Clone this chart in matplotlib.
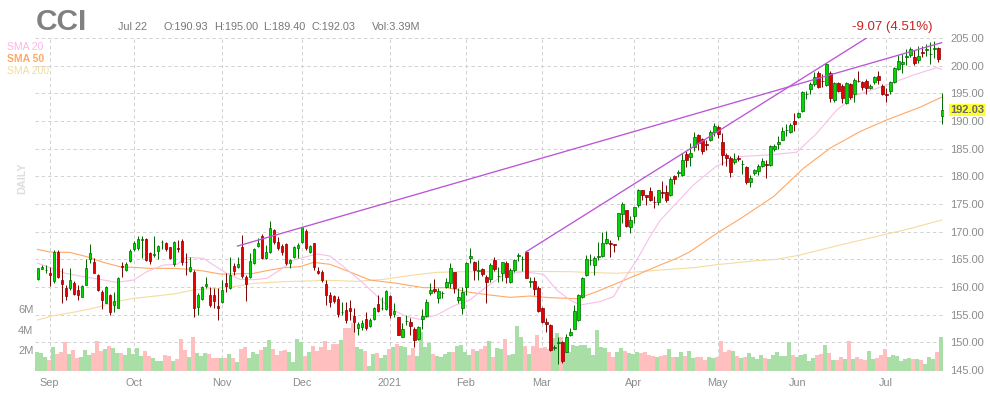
import matplotlib
matplotlib.use("Agg")
import matplotlib.pyplot as plt

plt.rcParams["font.family"] = ["Liberation Sans", "DejaVu Sans"]

# daily prices, bar by bar
opens = [161.44, 163.31, 163.0, 162.47, 161.14, 166.26, 161.2, 159.76, 159.82, 160.66,
         159.46, 158.25, 160.42, 165.0, 164.45, 162.11, 159.1, 157.17, 158.5, 156.69,
         156.27, 163.85, 163.13, 164.76, 166.8, 167.04, 168.55, 168.61, 166.08, 165.85,
         166.56, 168.15, 168.01, 167.16, 164.09, 167.0, 168.25, 164.57, 162.95, 162.71,
         156.45, 157.77, 160.12, 158.5, 158.62, 156.51, 157.35, 160.66, 159.76, 163.73,
         163.55, 167.16, 161.74, 161.74, 164.27, 167.46, 169.21, 165.18, 166.26, 170.23,
         168.07, 167.34, 167.71, 164.27, 165.36, 166.98, 168.07, 170.05, 166.26, 167.89,
         162.83, 162.65, 160.48, 158.5, 158.31, 157.83, 155.5, 155.85, 156.15, 154.76,
         152.53, 152.71, 154.16, 152.96, 154.28, 156.87, 156.12, 155.97, 158.37, 155.18,
         154.52, 151.03, 153.9, 153.62, 152.41, 150.55, 154.16, 154.82, 158.98, 159.58,
         158.07, 158.93, 160.06, 160.66, 162.65, 157.59, 156.15, 160.06, 165.18, 164.51,
         162.9, 163.31, 161.87, 161.38, 164.82, 161.9, 162.47, 164.27, 160.96, 163.01,
         165.65, 165.0, 166.26, 160.95, 161.02, 159.88, 156.27, 153.74, 153.2, 149.05,
         149.95, 150.0, 148.31, 151.39, 152.47, 153.98, 158.19, 162.11, 164.8, 163.91,
         165.5, 165.66, 167.89, 168.01, 167.77, 169.29, 173.26, 173.87, 170.92, 172.9,
         174.89, 177.48, 176.64, 177.3, 175.4, 175.43, 177.1, 177.17, 176.7, 180.07,
         180.6, 180.33, 184.0, 183.58, 185.38, 187.43, 186.7, 185.8, 186.53, 187.97,
         189.0, 186.16, 183.82, 183.27, 182.55, 183.3, 182.2, 181.65, 179.06, 180.69,
         180.93, 181.95, 182.25, 182.13, 184.9, 185.92, 186.65, 188.3, 188.09, 189.96,
         190.68, 191.88, 194.8, 195.86, 196.7, 198.63, 197.3, 196.58, 198.69, 193.87,
         196.94, 196.4, 193.27, 196.64, 194.95, 197.25, 197.0, 197.18, 195.92, 197.12,
         198.08, 196.4, 194.85, 195.5, 197.0, 199.47, 200.25, 201.51, 201.88, 201.51,
         200.97, 202.42, 202.84, 202.05, 203.1, 203.14, 190.93]
highs = [163.49, 163.97, 163.97, 163.67, 166.68, 166.68, 163.37, 160.36, 163.37, 161.08,
         160.36, 160.36, 165.0, 167.77, 165.18, 162.35, 159.46, 160.18, 158.74, 159.16,
         161.74, 164.57, 164.57, 166.8, 168.37, 169.21, 169.21, 168.79, 166.38, 169.21,
         167.58, 168.49, 168.13, 167.28, 168.37, 168.49, 168.61, 166.08, 165.36, 163.07,
         158.86, 160.18, 161.87, 159.94, 159.76, 159.76, 161.26, 162.47, 165.36, 164.27,
         165.36, 169.39, 162.17, 166.08, 166.98, 168.79, 169.57, 167.58, 171.9, 170.41,
         169.09, 167.77, 167.89, 165.0, 167.4, 167.89, 170.9, 170.41, 167.58, 168.01,
         163.67, 163.07, 161.26, 159.16, 158.56, 158.37, 157.35, 157.35, 157.65, 156.15,
         153.74, 154.04, 155.54, 154.34, 156.45, 158.56, 158.25, 159.4, 158.56, 157.05,
         154.64, 153.44, 154.94, 154.34, 152.84, 152.96, 155.97, 157.77, 160.66, 161.38,
         159.76, 159.34, 161.56, 164.27, 162.77, 159.76, 160.06, 164.57, 166.98, 164.76,
         164.88, 163.49, 162.17, 164.27, 165.36, 163.67, 164.57, 164.76, 163.37, 165.0,
         166.2, 165.6, 166.38, 161.87, 161.87, 160.18, 156.45, 154.34, 153.32, 149.5,
         151.0, 150.3, 151.5, 152.53, 156.75, 158.74, 161.74, 165.78, 165.96, 165.6,
         168.19, 169.99, 170.11, 168.49, 167.77, 173.45, 175.3, 174.0, 172.8, 174.5,
         177.7, 177.6, 176.7, 178.0, 176.5, 177.6, 179.2, 178.4, 179.8, 180.3,
         181.1, 184.2, 184.6, 186.0, 188.0, 187.6, 187.0, 186.6, 188.3, 189.6,
         189.2, 187.8, 184.3, 183.6, 184.3, 183.9, 183.0, 181.9, 180.3, 181.3,
         182.2, 183.4, 183.0, 185.7, 185.8, 187.2, 189.0, 189.5, 189.7, 191.5,
         191.7, 195.4, 195.4, 197.0, 198.9, 199.0, 198.5, 200.5, 199.0, 197.1,
         197.1, 196.6, 197.1, 196.9, 197.7, 199.1, 197.3, 197.5, 196.7, 198.2,
         199.0, 196.7, 195.9, 197.3, 199.8, 201.9, 202.1, 203.0, 203.3, 202.8,
         203.5, 203.6, 204.0, 204.3, 204.5, 203.3, 195.0]
lows = [161.26, 163.19, 162.47, 160.24, 160.66, 161.56, 157.05, 157.65, 159.46, 158.56,
        157.65, 158.13, 160.3, 164.27, 162.47, 159.28, 155.97, 157.05, 154.94, 155.54,
        156.15, 161.74, 162.95, 164.57, 166.56, 166.68, 165.18, 164.76, 164.09, 165.48,
        165.0, 166.8, 166.56, 165.0, 163.79, 166.38, 163.97, 162.17, 162.77, 154.52,
        154.94, 157.65, 159.76, 156.33, 156.15, 154.04, 157.17, 159.16, 159.58, 162.17,
        163.37, 161.56, 157.53, 161.56, 164.15, 167.28, 165.0, 165.0, 166.08, 167.77,
        166.68, 165.78, 163.97, 163.37, 165.18, 165.18, 167.89, 166.68, 166.08, 163.07,
        162.35, 160.96, 156.75, 156.45, 157.05, 154.64, 154.94, 153.44, 154.04, 151.93,
        151.33, 152.23, 152.23, 152.84, 154.04, 155.54, 155.85, 155.85, 154.34, 154.64,
        151.33, 150.91, 153.14, 151.33, 149.1, 150.43, 152.35, 154.64, 158.56, 158.98,
        157.05, 157.95, 159.76, 159.76, 158.98, 157.05, 155.06, 158.56, 164.27, 161.26,
        161.26, 161.99, 157.17, 160.96, 162.95, 160.96, 161.14, 160.66, 160.78, 162.77,
        164.76, 162.95, 161.56, 160.06, 158.56, 155.54, 153.56, 151.93, 148.5, 148.6,
        146.1, 146.35, 148.2, 151.21, 152.35, 153.86, 158.07, 161.99, 163.97, 162.17,
        164.88, 165.48, 167.71, 165.48, 166.38, 168.5, 171.6, 170.8, 169.7, 171.6,
        174.4, 175.7, 174.8, 175.5, 174.3, 174.9, 176.0, 175.3, 176.4, 178.6,
        179.8, 180.1, 181.6, 181.9, 184.6, 184.7, 184.0, 184.8, 186.3, 187.2,
        187.0, 182.0, 181.9, 179.9, 182.2, 182.7, 180.4, 178.7, 178.1, 180.3,
        180.3, 181.7, 179.7, 181.9, 184.5, 185.0, 186.5, 187.2, 187.9, 188.2,
        190.5, 191.7, 194.0, 194.9, 196.4, 195.9, 196.2, 196.4, 193.5, 193.5,
        195.2, 193.3, 193.0, 194.0, 193.4, 197.0, 195.6, 194.9, 195.7, 196.6,
        196.7, 194.7, 193.4, 194.8, 196.8, 199.3, 198.6, 200.2, 201.6, 200.1,
        200.5, 201.5, 201.8, 200.3, 201.3, 200.6, 189.4]
closes = [163.37, 163.67, 163.1, 162.11, 166.32, 161.74, 160.6, 158.43, 161.2, 158.8,
          158.62, 160.18, 163.37, 166.08, 162.59, 159.52, 157.71, 159.94, 155.54, 157.41,
          161.56, 163.67, 164.09, 166.44, 167.89, 168.61, 168.61, 164.94, 164.76, 165.92,
          167.34, 168.2, 166.8, 165.18, 168.07, 166.94, 164.57, 164.45, 163.67, 156.27,
          158.5, 159.94, 160.48, 156.81, 157.53, 156.15, 159.4, 160.24, 162.11, 162.95,
          164.09, 161.93, 160.48, 164.63, 166.8, 167.89, 165.3, 166.26, 170.6, 168.07,
          166.98, 166.26, 164.27, 164.82, 167.16, 167.52, 170.78, 166.98, 167.34, 163.55,
          162.47, 161.2, 158.5, 157.23, 157.53, 155.06, 155.56, 154.04, 155.73, 153.74,
          153.26, 153.44, 152.53, 154.04, 156.15, 155.73, 156.2, 159.22, 154.94, 155.67,
          151.39, 152.35, 153.92, 153.02, 150.49, 152.72, 154.7, 157.23, 159.46, 159.22,
          159.22, 159.0, 160.84, 163.37, 159.82, 158.13, 159.16, 164.27, 165.54, 163.07,
          163.0, 162.29, 160.96, 163.91, 163.19, 162.0, 164.45, 161.87, 163.01, 164.82,
          165.72, 165.06, 161.69, 161.1, 159.7, 155.73, 153.74, 153.26, 148.56, 149.15,
          150.05, 146.62, 150.96, 151.81, 155.6, 158.62, 161.56, 165.0, 164.88, 165.18,
          165.66, 167.89, 168.67, 167.71, 167.65, 173.32, 174.95, 171.1, 172.06, 174.4,
          177.48, 176.7, 176.27, 175.73, 175.35, 177.48, 177.0, 175.73, 179.46, 179.59,
          180.7, 182.91, 182.97, 184.18, 187.07, 186.1, 184.66, 185.7, 187.97, 189.11,
          187.67, 183.94, 183.27, 180.87, 183.21, 183.2, 182.3, 178.94, 179.66, 181.11,
          181.95, 182.73, 182.07, 185.44, 185.44, 186.16, 188.15, 188.4, 189.29, 189.47,
          191.4, 195.25, 194.9, 196.64, 197.9, 196.22, 197.2, 200.31, 194.23, 196.94,
          195.5, 194.1, 196.82, 194.35, 197.48, 197.15, 196.1, 195.92, 196.4, 197.9,
          197.36, 194.95, 194.75, 197.0, 199.53, 200.79, 200.61, 201.69, 202.96, 200.43,
          201.82, 202.24, 203.08, 202.15, 203.2, 201.15, 192.03]
# volume in millions
volumes = [1.81, 1.71, 1.35, 1.06, 2.32, 1.65, 1.84, 2.81, 1.65, 2.03,
           1.26, 1.35, 2.03, 1.55, 1.74, 2.9, 1.94, 2.13, 2.42, 2.23,
           1.71, 1.74, 1.55, 2.23, 1.65, 2.23, 1.45, 1.94, 1.45, 1.26,
           0.97, 0.97, 1.55, 1.45, 0.97, 1.16, 3.1, 2.03, 1.35, 3.29,
           1.74, 1.45, 1.74, 1.65, 1.26, 1.26, 1.26, 1.26, 1.65, 1.26,
           0.87, 2.13, 2.32, 1.26, 1.84, 1.65, 2.03, 2.35, 3.0, 2.13,
           1.55, 1.94, 2.03, 1.84, 0.87, 3.1, 2.81, 1.45, 1.84, 2.42,
           1.94, 2.32, 2.9, 2.03,
           2.61, 2.61, 3.0, 4.16, 4.16, 4.65, 2.32, 2.13, 1.94, 0.48,
           1.65, 1.74, 1.26, 1.55, 2.13, 2.32, 2.61, 2.42, 2.32, 1.55,
           2.23, 1.45, 3.77, 2.32, 2.74, 1.65, 1.45, 1.35, 1.65, 1.84,
           1.84, 2.42, 2.52, 1.84, 1.55, 2.13, 1.94, 2.13, 2.42, 2.9,
           1.35, 2.23, 2.13, 3.1, 1.55, 1.65, 4.35, 3.29, 2.42, 1.65,
           2.42, 3.48, 2.23, 2.32, 2.13, 3.19, 3.68, 3.29, 1.84, 1.84,
           2.52, 2.42, 2.52, 2.52, 2.23, 1.55, 3.97, 2.32, 2.23, 1.84,
           1.35, 1.84, 2.23, 1.94, 1.74, 1.65, 1.84, 1.74, 1.84, 1.55,
           1.45, 1.35, 1.45,
           1.55, 2.13, 1.35, 1.35, 1.84, 1.45, 1.94, 1.26, 1.35, 1.35,
           1.06, 1.35, 1.26, 1.35, 2.9, 1.84, 2.03, 1.94, 1.45, 1.26,
           1.35, 1.74, 1.35, 1.16, 1.55, 1.26, 1.16, 1.55, 1.84, 1.45,
           1.45, 2.81, 1.55, 1.35, 1.55, 1.65, 0.97, 1.26, 1.55, 1.65,
           2.52, 1.74, 1.06, 1.06, 1.35, 1.16, 2.9, 1.16, 1.35, 1.16,
           1.06, 1.94, 1.16, 1.26, 1.55, 2.13, 1.35, 1.55, 1.45, 0.97,
           1.16, 1.26, 1.16, 1.16, 1.06, 0.68, 1.35, 1.16, 1.84, 3.29]

sma20_idx = [0, 3, 7, 11.5, 15.6, 19.8, 24, 27.3, 31.5, 34.8, 37.3, 41.5, 44, 47.3, 50.6, 54, 57.3,
             60.6, 64, 69.8, 73.1, 76.5, 81.5, 88.1, 92.3, 95.6, 99.8, 104, 108.1, 112.3, 116.5,
             121.5, 126.5, 129.8, 133.1, 135.6, 140.6, 144, 146.5, 149.8, 153.1, 155.6, 164, 169.8,
             175.6, 183.1, 189.8, 194.8, 199.8, 204.8, 212.3, 219, 224.8, 226]
sma20 = [164.3, 163.55, 162.47, 161.87, 161.38, 160.84, 161.26, 162.77, 163.97, 164.09, 165.36,
         165.18, 163.97, 162.47, 161.38, 161.32, 161.56, 163.07, 164.88, 165.96, 165.6, 163.67,
         160.66, 156.15, 154.64, 154.16, 154.94, 156.57, 157.65, 160.06, 162.17, 162.77, 162.29,
         159.46, 157.65, 156.75, 157.35, 158.25, 161.26, 164.88, 169.09, 172.0, 178.46, 181.89,
         183.58, 183.88, 184.36, 187.79, 192.0, 194.71, 196.52, 198.32, 199.65, 199.35]
sma50_idx = [0, 3.1, 8.1, 12.3, 16.5, 20.6, 24, 28.1, 34, 38.1, 41.5, 45.6, 49, 54, 57.3, 61.5, 65.6,
             69, 73.1, 77.3, 83.1, 89.8, 96.5, 102.3, 108.1, 113.1, 118.1, 123.1, 128.1, 134.8,
             139.8, 144.8, 149.8, 155.6, 159.8, 163.1, 166.5, 169.8, 173.1, 175.2, 184, 191.5,
             198.1, 205.6, 212.3, 220.6, 226]
sma50 = [166.8, 166.32, 166.26, 165.48, 164.45, 163.67, 163.55, 163.37, 163.37, 163.19, 162.89,
         162.35, 162.35, 162.47, 162.95, 163.49, 163.67, 164.45, 164.1, 162.95, 161.26, 160.66,
         159.88, 159.88, 159.04, 158.55, 158.13, 158.37, 158.07, 157.89, 159.16, 160.66, 162.17,
         163.97, 165.18, 166.38, 168.07, 169.69, 171.2, 172.12, 176.35, 181.47, 185.08, 188.09,
         190.2, 192.49, 194.3]
sma200_idx = [0, 4, 9.8, 15.6, 19.8, 24, 28.1, 34, 39, 44.8, 49, 54, 61.5, 73.1, 79.8, 86.5, 94, 99.8,
              106.5, 114.8, 123.1, 133.1, 139.8, 144.8, 150.6, 155.6, 164, 169.8, 179, 184.8, 190.6,
              200.6, 212.3, 217.3, 226]
sma200 = [154.04, 154.82, 155.54, 156.45, 157.35, 157.95, 158.25, 158.74, 159.46, 159.76, 160.06,
          160.66, 160.96, 161.2, 161.02, 161.38, 162.17, 162.65, 162.77, 162.77, 162.83, 162.77,
          162.59, 162.47, 162.77, 163.07, 163.49, 164.03, 164.7, 165.0, 165.78, 167.58, 169.57,
          170.41, 172.1]

# trendlines as (bar, price) ends
trend1_idx = [50, 226]
trend1 = [167.4, 204.15]
trend2_idx = [122, 207.25]
trend2 = [166.3, 205.0]

month_idx = [3, 24, 46, 66, 88, 107, 126, 149, 170, 190, 212]
month_labels = ["Sep", "Oct", "Nov", "Dec", "2021", "Feb", "Mar", "Apr", "May", "Jun", "Jul"]
price_ticks = [145, 150, 155, 160, 165, 170, 175, 180, 185, 190, 195, 200, 205]
volume_ticks = [2, 4, 6]

TEXT_GREY = "#8c8c8c"
GRID = "#d2d2d2"

idx = list(range(len(closes)))
up = [c >= o for o, c in zip(opens, closes)]

fig = plt.figure(figsize=(9.9, 4.0), dpi=100)
rect = [35 / 990, 29 / 400, 909 / 990, 333.5 / 400]
xlim = (-0.625, 226.6)
ylim = (144.82, 205.09)

# three stacked axes: grid and labels, then volume, then candles
ax = fig.add_axes(rect, zorder=0)
ax.set_xlim(xlim)
ax.set_ylim(ylim)
ax.set_xticks(month_idx)
ax.set_xticklabels(month_labels)
ax.yaxis.tick_right()
ax.set_yticks(price_ticks)
ax.set_yticklabels(["%.2f" % p for p in price_ticks])
ax.tick_params(axis="y", length=0, pad=4.3, labelsize=8, labelcolor=TEXT_GREY)
ax.tick_params(axis="x", length=0, pad=5, labelsize=7.8, labelcolor=TEXT_GREY)
ax.grid(True, color=GRID, linestyle=(0, (3.5, 3)), linewidth=0.7)
ax.yaxis.get_gridlines()[0].set_visible(False)
for s in ax.spines.values():
    s.set_visible(False)

axv = fig.add_axes(rect, zorder=1)
axv.patch.set_visible(False)
axv.set_xlim(xlim)
axv.set_ylim(0, 333.5 / 10.3)
axv.bar([i - 0.1 for i in idx], volumes, width=1.0,
        color=["#a9dfa6" if u else "#ffbfbf" for u in up], linewidth=0)
axv.set_xticks([])
axv.set_yticks(volume_ticks)
axv.set_yticklabels(["%dM" % v for v in volume_ticks])
axv.tick_params(axis="y", length=0, pad=1.2, labelsize=8, labelcolor=TEXT_GREY)
for s in axv.spines.values():
    s.set_visible(False)

axc = fig.add_axes(rect, zorder=2)
axc.patch.set_visible(False)
axc.set_xlim(xlim)
axc.set_ylim(ylim)
axc.axis("off")

axc.plot(sma200_idx, sma200, color="#f5dca0", lw=0.8)
axc.plot(sma50_idx, sma50, color="#ffa866", lw=0.8)
axc.plot(sma20_idx, sma20, color="#f9bfe9", lw=0.8)

cx = [i + 0.12 for i in idx]
wick_colors = ["#006600" if u else "#7a0000" for u in up]
axc.vlines(cx, lows, highs, colors=wick_colors, lw=0.7, zorder=3)
axc.bar(cx, [abs(c - o) for o, c in zip(opens, closes)], width=0.74,
        bottom=[min(o, c) for o, c in zip(opens, closes)],
        color=["#00d800" if u else "#e80000" for u in up],
        edgecolor=wick_colors, linewidth=0.5, zorder=4)

axc.plot(trend1_idx, trend1, color="#bb55d5", lw=0.95, zorder=5)
axc.plot(trend2_idx, trend2, color="#bb55d5", lw=0.95, zorder=5)

# header texts
fig.text(36 / 990, 1 - 30 / 400, "CCI", fontsize=21.5, fontweight="bold", color="#808080", va="baseline")
fig.text(118 / 990, 1 - 30 / 400, "Jul 22", fontsize=7.8, color="#777777", va="baseline")
fig.text(164 / 990, 1 - 30 / 400, "O:190.93", fontsize=7.8, color="#777777", va="baseline")
fig.text(214 / 990, 1 - 30 / 400, "H:195.00", fontsize=7.8, color="#777777", va="baseline")
fig.text(263 / 990, 1 - 30 / 400, "L:189.40", fontsize=7.8, color="#777777", va="baseline")
fig.text(311 / 990, 1 - 30 / 400, "C:192.03", fontsize=7.8, color="#777777", va="baseline")
fig.text(372 / 990, 1 - 30 / 400, "Vol:3.39M", fontsize=7.8, color="#777777", va="baseline")
fig.text(852 / 990, 1 - 30 / 400, "-9.07 (4.51%)", fontsize=9.5, color="#cc2222", va="baseline")

fig.text(7 / 990, 1 - 46.5 / 400, "SMA 20", fontsize=7.5, color="#ffb3e6", va="center")
fig.text(7 / 990, 1 - 58.5 / 400, "SMA 50", fontsize=7.5, color="#ffa866", fontweight="bold", va="center")
fig.text(7 / 990, 1 - 70.5 / 400, "SMA 200", fontsize=7.5, color="#f0dca0", va="center")
fig.text(22 / 990, 1 - 178 / 400, "DAILY", fontsize=7.8, color="#dddddd", fontweight="bold",
         rotation=90, ha="center", va="center")

# last close tag on the price scale
ax.annotate("%.2f" % closes[-1], xy=(1, closes[-1]), xycoords=ax.get_yaxis_transform(),
            xytext=(4.3, 0), textcoords="offset points", fontsize=8, color="#666666",
            fontweight="bold", va="center", ha="left",
            bbox=dict(boxstyle="square,pad=0.1", facecolor="#ffff33", edgecolor="none"),
            annotation_clip=False, zorder=6)

fig.savefig("out.png", dpi=100)
